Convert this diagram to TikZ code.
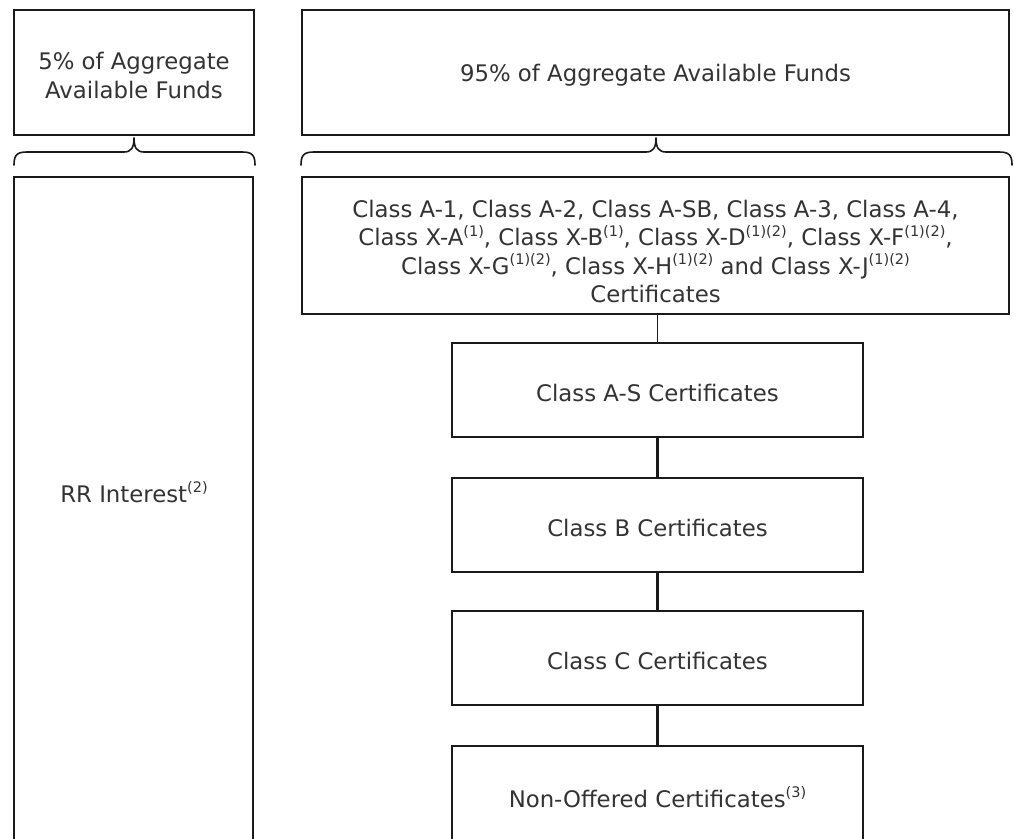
\documentclass[tikz,border=0pt]{standalone}
\usepackage{fontspec}
\setmainfont{DejaVu Sans}
\newcommand{\supr}[1]{\raisebox{0.42em}{\fontsize{14.5}{14.5}\selectfont #1}}
\definecolor{txt}{HTML}{333333}
\definecolor{ln}{HTML}{1A1A1A}
\begin{document}
\begin{tikzpicture}[x=1pt,y=-1pt,
  box/.style={draw=ln,line width=2.2pt,fill=white,inner sep=0pt,outer sep=0pt,
    text=txt,align=center,font=\fontsize{22.8}{28.5}\selectfont},
  lbl/.style={text=txt,align=center,inner sep=0pt,font=\fontsize{22.8}{28.5}\selectfont},
  brace/.style={draw=ln,line width=1.6pt,line cap=round,line join=round},
  thinlink/.style={draw=ln,line width=1.5pt},
  thicklink/.style={draw=ln,line width=3pt}]
\useasboundingbox (0,0) rectangle (1014,838);
\clip (0,0) rectangle (1014,838);
\fill[white] (0,0) rectangle (1014,838);

% top row
\node[box,minimum width=240pt,minimum height=125pt] (five) at (134,72.5) {};
\node[lbl] (fivetext) at (134,75.5) {5\% of Aggregate\\Available Funds};
\node[box,minimum width=707pt,minimum height=125pt] (ninetyfive) at (655.5,72.5) {};
\node[lbl] (ninetyfivetext) at (655.5,75) {95\% of Aggregate Available Funds};

% braces
\draw[brace] (14,165) .. controls (14,155) and (17,152) .. (27,152) -- (124,152)
  .. controls (131,152) and (134,148) .. (134,138)
  .. controls (134,148) and (137,152) .. (144,152) -- (242,152)
  .. controls (252,152) and (255,155) .. (255,165);
\draw[brace] (301,165) .. controls (301,155) and (304,152) .. (314,152) -- (646,152)
  .. controls (653,152) and (656,148) .. (656,138)
  .. controls (656,148) and (659,152) .. (666,152) -- (999,152)
  .. controls (1009,152) and (1012,155) .. (1012,165);

% left column
\node[box,minimum width=239pt,minimum height=700pt] (rr) at (133.5,527) {};
\node[lbl] (rrtext) at (134,492) {RR Interest\supr{(2)}};

% right column
\node[box,minimum width=707pt,minimum height=137pt] (big) at (655.5,245.5) {};
\node[lbl] (bigtext) at (655.5,251.5)
  {Class A-1, Class A-2, Class A-SB, Class A-3, Class A-4,\\
   Class X-A\supr{(1)}, Class X-B\supr{(1)}, Class X-D\supr{(1)(2)}, Class X-F\supr{(1)(2)},\\
   Class X-G\supr{(1)(2)}, Class X-H\supr{(1)(2)} and Class X-J\supr{(1)(2)}\\
   Certificates};
\node[box,minimum width=411pt,minimum height=94pt] (as) at (657.5,390) {};
\node[lbl] (astext) at (657.5,393) {Class A-S Certificates};
\node[box,minimum width=411pt,minimum height=94pt] (b) at (657.5,525) {};
\node[lbl] (btext) at (657.5,528) {Class B Certificates};
\node[box,minimum width=411pt,minimum height=94pt] (c) at (657.5,658) {};
\node[lbl] (ctext) at (657.5,661) {Class C Certificates};
\node[box,minimum width=411pt,minimum height=140pt] (no) at (657.5,816) {};
\node[lbl] (notext) at (657.5,797) {Non-Offered Certificates\supr{(3)}};

% connectors
\draw[thinlink] (as.north) -- (as.north |- big.south);
\draw[thicklink] (as.south) -- (b.north);
\draw[thicklink] (b.south) -- (c.north);
\draw[thicklink] (c.south) -- (no.north);
\end{tikzpicture}
\end{document}
